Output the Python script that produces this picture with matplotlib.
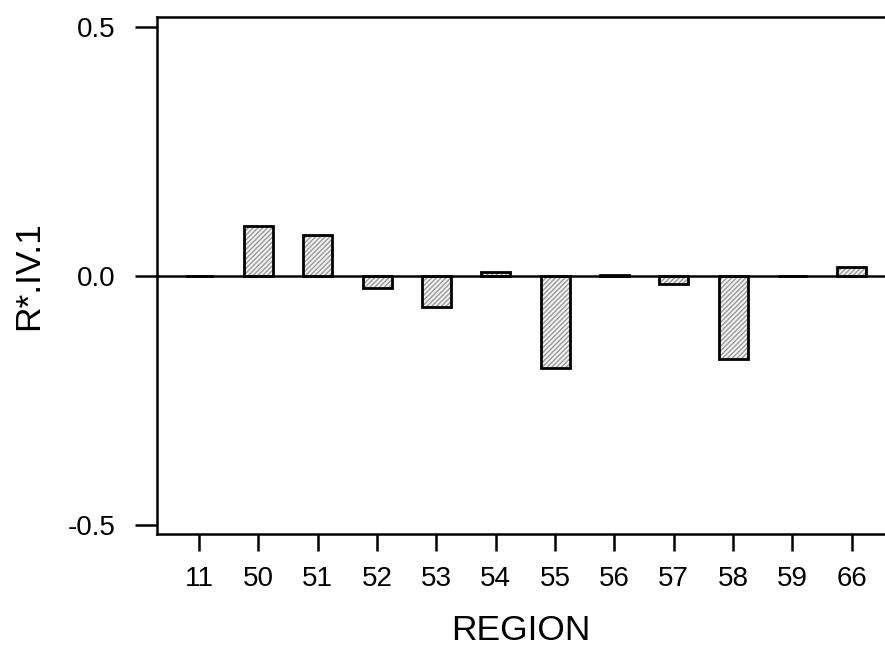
import numpy as np
import matplotlib
matplotlib.use('Agg')
import matplotlib.pyplot as plt

plt.rcParams['font.family'] = ['Liberation Sans', 'DejaVu Sans']

# data
regions = ['11', '50', '51', '52', '53', '54', '55', '56', '57', '58', '59', '66']
values = [0.0, 0.101, 0.083, -0.025, -0.063, 0.009, -0.184, 0.003, -0.017, -0.166, 0.0, 0.019]
ytick_vals = [-0.5, 0.0, 0.5]
ytick_labels = ['-0.5', '0.0', '0.5']

fig = plt.figure(figsize=(8.85, 6.48), dpi=100)
ax = fig.add_axes([157 / 885, 114 / 648, 728 / 885, 517 / 648])

x = np.arange(len(regions))
# hatch layer (grey) then outline layer (black)
ax.bar(x, values, width=0.49, color='#f4f4f4', edgecolor='#999999',
       hatch='///////', linewidth=0, zorder=2)
ax.bar(x, values, width=0.49, fill=False, edgecolor='black',
       linewidth=2.0, zorder=3)
ax.axhline(0, color='black', linewidth=1.8, zorder=4)

ax.set_xlim(-0.71, 11.56)
ax.set_ylim(-0.518, 0.52)
ax.set_xticks(x)
ax.set_xticklabels(regions)
ax.set_yticks(ytick_vals)
ax.set_yticklabels(ytick_labels)

for s in ['left', 'top', 'bottom']:
    ax.spines[s].set_linewidth(1.8)
ax.spines['right'].set_visible(False)

ax.tick_params(axis='y', length=16, width=1.8, pad=14, labelsize=20)
ax.tick_params(axis='x', length=12, width=1.8, pad=11, labelsize=20)

ax.set_xlabel('REGION', fontsize=25.5, labelpad=16)
ax.set_ylabel('R*.IV.1', fontsize=25.5, labelpad=16)

fig.savefig('out.png', dpi=100)
